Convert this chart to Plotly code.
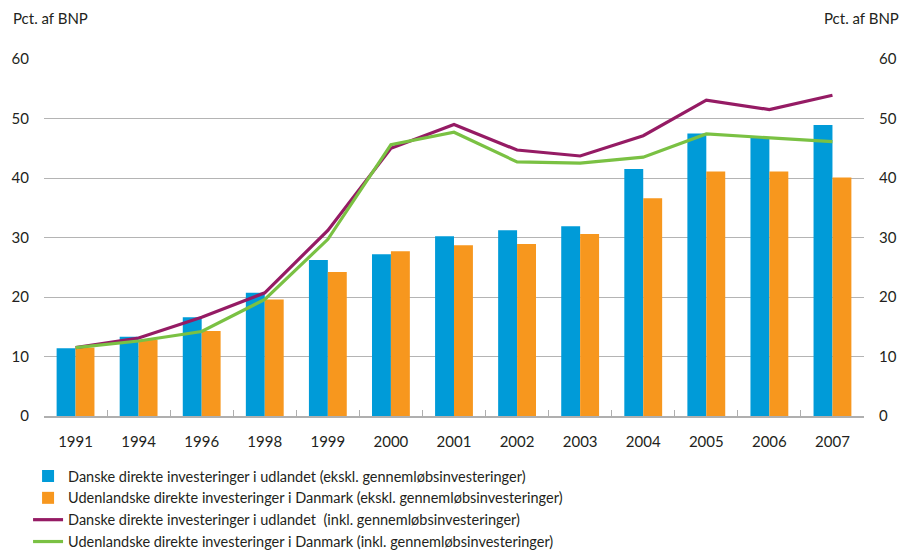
import plotly.graph_objects as go

years = ["1991", "1994", "1996", "1998", "1999", "2000", "2001", "2002", "2003", "2004", "2005", "2006", "2007"]
dk_excl = [11.4, 13.3, 16.6, 20.7, 26.2, 27.2, 30.2, 31.2, 31.9, 41.5, 47.5, 46.8, 48.9]
udl_excl = [11.5, 12.8, 14.3, 19.6, 24.2, 27.7, 28.7, 28.9, 30.6, 36.6, 41.1, 41.1, 40.1]
dk_incl = [11.5, 13.1, 16.6, 20.7, 31.2, 45.0, 49.0, 44.7, 43.7, 47.1, 53.1, 51.5, 53.9]
udl_incl = [11.5, 12.6, 14.2, 19.6, 29.7, 45.6, 47.7, 42.7, 42.5, 43.5, 47.4, 46.8, 46.1]
yticks = [0, 10, 20, 30, 40, 50, 60]

names = [
    "Danske direkte investeringer i udlandet (ekskl. gennemløbsinvesteringer)",
    "Udenlandske direkte investeringer i Danmark (ekskl. gennemløbsinvesteringer)",
    "Danske direkte investeringer i udlandet  (inkl. gennemløbsinvesteringer)",
    "Udenlandske direkte investeringer i Danmark (inkl. gennemløbsinvesteringer)",
]

FONT = "Lato, Open Sans, sans-serif"
TXT = "#231F20"
FS = 15

fig = go.Figure()
fig.add_trace(go.Bar(x=years, y=dk_excl, name=names[0], marker=dict(color="#009BD8", line=dict(width=0))))
fig.add_trace(go.Bar(x=years, y=udl_excl, name=names[1], marker=dict(color="#F7971E", line=dict(width=0))))
fig.add_trace(go.Scatter(x=years, y=dk_incl, name=names[2], mode="lines", line=dict(color="#951B64", width=3.2)))
fig.add_trace(go.Scatter(x=years, y=udl_incl, name=names[3], mode="lines", line=dict(color="#7AC143", width=3.2)))
# invisible trace for the right axis
fig.add_trace(go.Scatter(x=years, y=dk_incl, yaxis="y2", mode="lines", line=dict(width=0), opacity=0,
                         showlegend=False, hoverinfo="skip"))

fig.update_layout(
    width=905, height=559,
    margin=dict(l=44, r=41, t=59, b=143, autoexpand=False),
    paper_bgcolor="white", plot_bgcolor="white",
    barmode="group", bargap=0.4, bargroupgap=0,
    font=dict(family=FONT, size=FS, color=TXT),
    showlegend=True,
    legend=dict(x=0.031, y=0.177, xref="container", yref="container", xanchor="left", yanchor="top",
                orientation="v", traceorder="normal", font=dict(family=FONT, size=14.5, color=TXT),
                itemwidth=30, tracegroupgap=0, bgcolor="rgba(0,0,0,0)"),
    xaxis=dict(type="category", showgrid=False, showline=True, linecolor="#AFAFAF", linewidth=1.5,
               ticks="inside", tickson="boundaries", ticklen=6, tickcolor="#AFAFAF", tickwidth=1,
               ticklabelstandoff=11,
               tickfont=dict(family=FONT, size=FS, color=TXT), zeroline=False),
    yaxis=dict(range=[0, 60], tickvals=yticks, showgrid=True, gridcolor="#B4B4B4", gridwidth=1.2,
               zeroline=False, showline=False, ticks="", ticklabelstandoff=14,
               tickfont=dict(family=FONT, size=FS, color=TXT)),
    yaxis2=dict(range=[0, 60], tickvals=yticks, overlaying="y", side="right", showgrid=False,
                zeroline=False, showline=False, ticks="", ticklabelstandoff=14,
                tickfont=dict(family=FONT, size=FS, color=TXT)),
    annotations=[
        dict(text="Pct. af BNP", xref="paper", yref="paper", x=-0.04, y=1.0, yshift=41,
             xanchor="left", yanchor="middle", showarrow=False, font=dict(family=FONT, size=FS, color=TXT)),
        dict(text="Pct. af BNP", xref="paper", yref="paper", x=1.045, y=1.0, yshift=41,
             xanchor="right", yanchor="middle", showarrow=False, font=dict(family=FONT, size=FS, color=TXT)),
    ],
)

fig.write_html("out.html", config={"displayModeBar": False},
               post_script="document.body.style.margin='0';document.body.style.overflow='hidden';")
